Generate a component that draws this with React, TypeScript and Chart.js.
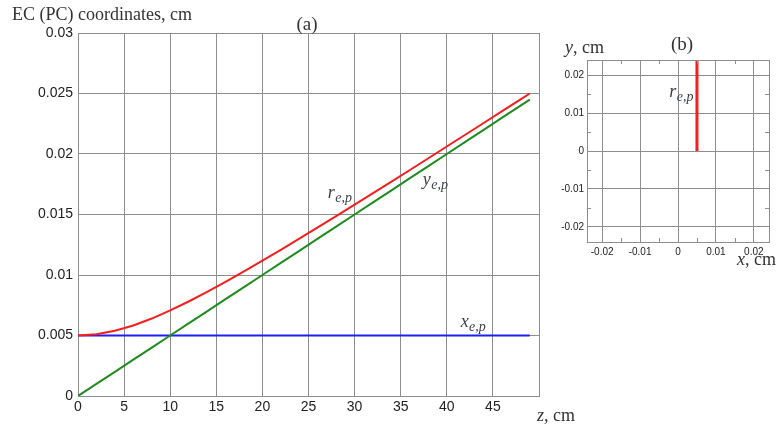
import React, { useEffect, useRef } from 'react';
import { Chart, registerables } from 'chart.js';

Chart.register(...registerables);

// ---- data ----
const zValues = [0, 2, 4, 6, 8, 10, 12, 14, 16, 18, 20, 22, 24, 26, 28, 30, 32, 34, 36, 38, 40, 42, 44, 46, 48, 49];
const xEp = [0.005, 0.005, 0.005, 0.005, 0.005, 0.005, 0.005, 0.005, 0.005, 0.005, 0.005, 0.005, 0.005, 0.005, 0.005, 0.005, 0.005, 0.005, 0.005, 0.005, 0.005, 0.005, 0.005, 0.005, 0.005, 0.005];
const yEp = [0, 0.001, 0.002, 0.003, 0.004, 0.005, 0.006, 0.007, 0.008, 0.009, 0.01, 0.011, 0.012, 0.013, 0.014, 0.015, 0.016, 0.017, 0.018, 0.019, 0.02, 0.021, 0.022, 0.023, 0.024, 0.0245];
const rEp = [0.005, 0.0051, 0.00539, 0.00583, 0.0064, 0.00707, 0.00781, 0.0086, 0.00943, 0.0103, 0.01118, 0.01208, 0.013, 0.01393, 0.01487, 0.01581, 0.01676, 0.01772, 0.01868, 0.01965, 0.02062, 0.02159, 0.02256, 0.02354, 0.02452, 0.025];

const panelBX = [0.005, 0.005];
const panelBY = [0, 0.025];

const mainXTicks = [0, 5, 10, 15, 20, 25, 30, 35, 40, 45, 50];
const mainYTicks = [0, 0.005, 0.01, 0.015, 0.02, 0.025, 0.03];
const bTicks = [-0.02, -0.01, 0, 0.01, 0.02];
const bMinor = [-0.015, -0.005, 0.005, 0.015];

const SERIF = '"Liberation Serif", "Times New Roman", serif';
const SANS = '"Liberation Sans", Arial, sans-serif';
const GRID = '#8e8e8e';
const TEXT = '#333';
const RED = 'rgb(245,30,30)';
const GREEN = 'rgb(30,140,30)';
const BLUE = 'rgb(30,30,245)';

const fmt = (v: number) => String(Number(v.toFixed(3)));

function subLabel(ctx: CanvasRenderingContext2D, x: number, y: number, main: string, sub: string, size: number) {
  ctx.font = `italic ${size}px ${SERIF}`;
  ctx.fillText(main, x, y);
  const w = ctx.measureText(main).width;
  ctx.font = `italic ${Math.round(size * 0.75)}px ${SERIF}`;
  ctx.fillText(sub, x + w + 0.5, y + 4);
}

function mixed(ctx: CanvasRenderingContext2D, x: number, y: number, ital: string, rest: string, size: number) {
  ctx.font = `italic ${size}px ${SERIF}`;
  ctx.fillText(ital, x, y);
  const w = ctx.measureText(ital).width;
  ctx.font = `${size}px ${SERIF}`;
  ctx.fillText(rest, x + w, y);
}

const textsA = {
  id: 'textsA',
  afterDraw(chart: any) {
    const ctx = chart.ctx as CanvasRenderingContext2D;
    const xs = chart.scales.x;
    const ys = chart.scales.y;
    ctx.save();
    ctx.fillStyle = TEXT;
    ctx.textBaseline = 'alphabetic';
    ctx.textAlign = 'left';
    ctx.font = `18px ${SERIF}`;
    ctx.fillText('EC (PC) coordinates, cm', 12, 20);
    ctx.textAlign = 'center';
    ctx.font = `19px ${SERIF}`;
    ctx.fillText('(a)', 307, 30);
    ctx.textAlign = 'left';
    mixed(ctx, 537, 421, 'z', ', cm', 18);
    ctx.fillStyle = '#3a3f4a';
    subLabel(ctx, xs.getPixelForValue(27.1), ys.getPixelForValue(0.01636), 'r', 'e,p', 18);
    subLabel(ctx, xs.getPixelForValue(37.4), ys.getPixelForValue(0.01746), 'y', 'e,p', 18);
    subLabel(ctx, xs.getPixelForValue(41.5), ys.getPixelForValue(0.00570), 'x', 'e,p', 18);
    ctx.restore();
  },
};

const frameB = {
  id: 'frameB',
  afterDatasetsDraw(chart: any) {
    const ctx = chart.ctx as CanvasRenderingContext2D;
    const a = chart.chartArea;
    const xs = chart.scales.x;
    const ys = chart.scales.y;
    ctx.save();
    ctx.strokeStyle = GRID;
    ctx.lineWidth = 1;
    ctx.beginPath();
    for (const v of bMinor) {
      const px = Math.round(xs.getPixelForValue(v)) + 0.5;
      ctx.moveTo(px, a.top); ctx.lineTo(px, a.top + 4);
      ctx.moveTo(px, a.bottom); ctx.lineTo(px, a.bottom - 4);
      const py = Math.round(ys.getPixelForValue(v)) + 0.5;
      ctx.moveTo(a.left, py); ctx.lineTo(a.left + 4, py);
      ctx.moveTo(a.right, py); ctx.lineTo(a.right - 4, py);
    }
    ctx.stroke();
    ctx.strokeRect(Math.round(a.left) + 0.5, Math.round(a.top) + 0.5, Math.round(a.right - a.left), Math.round(a.bottom - a.top));
    ctx.restore();
  },
  afterDraw(chart: any) {
    const ctx = chart.ctx as CanvasRenderingContext2D;
    const xs = chart.scales.x;
    const ys = chart.scales.y;
    ctx.save();
    ctx.fillStyle = TEXT;
    ctx.textBaseline = 'alphabetic';
    ctx.textAlign = 'center';
    ctx.font = `19px ${SERIF}`;
    ctx.fillText('(b)', 122, 50);
    ctx.textAlign = 'left';
    mixed(ctx, 5, 53, 'y', ', cm', 18);
    mixed(ctx, 177, 265, 'x', ', cm', 18);
    ctx.fillStyle = '#3a3f4a';
    subLabel(ctx, xs.getPixelForValue(-0.0023), ys.getPixelForValue(0.0143), 'r', 'e,p', 18);
    ctx.restore();
  },
};

export default function App() {
  const refA = useRef<HTMLCanvasElement | null>(null);
  const refB = useRef<HTMLCanvasElement | null>(null);

  useEffect(() => {
    const tickFont = { family: SANS, size: 14 };
    const chartA = new Chart(refA.current as HTMLCanvasElement, {
      type: 'scatter',
      data: {
        datasets: [
          { data: zValues.map((z, i) => ({ x: z, y: rEp[i] })), borderColor: RED, borderWidth: 2, showLine: true, pointRadius: 0, tension: 0 },
          { data: zValues.map((z, i) => ({ x: z, y: yEp[i] })), borderColor: GREEN, borderWidth: 2, showLine: true, pointRadius: 0, tension: 0 },
          { data: zValues.map((z, i) => ({ x: z, y: xEp[i] })), borderColor: BLUE, borderWidth: 2, showLine: true, pointRadius: 0, tension: 0 },
        ],
      },
      options: {
        responsive: false,
        animation: false,
        devicePixelRatio: 1,
        layout: { padding: { left: 0, right: 51, top: 33, bottom: 0 } },
        plugins: { legend: { display: false }, tooltip: { enabled: false } },
        scales: {
          x: {
            type: 'linear', min: 0, max: 50,
            afterBuildTicks: (s: any) => { s.ticks = mainXTicks.map((value) => ({ value })); },
            afterFit: (s: any) => { s.height = 31; },
            ticks: { callback: (v: any) => (v === 50 ? '' : String(v)), font: tickFont, color: '#222', padding: 3, maxRotation: 0, autoSkip: false },
            grid: { color: GRID, drawTicks: false },
            border: { display: true, color: GRID },
          },
          y: {
            type: 'linear', min: 0, max: 0.03,
            afterBuildTicks: (s: any) => { s.ticks = mainYTicks.map((value) => ({ value })); },
            afterFit: (s: any) => { s.width = 78; },
            ticks: { callback: (v: any) => fmt(v), font: tickFont, color: '#222', padding: 5, autoSkip: false },
            grid: { color: GRID, drawTicks: false },
            border: { display: true, color: GRID },
          },
        },
      },
      plugins: [textsA],
    } as any);

    const smallFont = { family: SANS, size: 10 };
    const chartB = new Chart(refB.current as HTMLCanvasElement, {
      type: 'scatter',
      data: {
        datasets: [
          { data: panelBX.map((x, i) => ({ x, y: panelBY[i] })), borderColor: RED, borderWidth: 3, showLine: true, pointRadius: 0 },
        ],
      },
      options: {
        responsive: false,
        animation: false,
        devicePixelRatio: 1,
        layout: { padding: { left: 0, right: 10, top: 60, bottom: 0 } },
        plugins: { legend: { display: false }, tooltip: { enabled: false } },
        scales: {
          x: {
            type: 'linear', min: -0.024, max: 0.024,
            afterBuildTicks: (s: any) => { s.ticks = bTicks.map((value) => ({ value })); },
            afterFit: (s: any) => { s.height = 38; },
            ticks: { callback: (v: any) => fmt(v), font: smallFont, color: '#222', padding: 4, maxRotation: 0, autoSkip: false },
            grid: { color: GRID, drawTicks: false },
            border: { display: true, color: GRID },
          },
          y: {
            type: 'linear', min: -0.024, max: 0.024,
            afterBuildTicks: (s: any) => { s.ticks = bTicks.map((value) => ({ value })); },
            afterFit: (s: any) => { s.width = 27; },
            ticks: { callback: (v: any) => fmt(v), font: smallFont, color: '#222', padding: 3, autoSkip: false },
            grid: { color: GRID, drawTicks: false },
            border: { display: true, color: GRID },
          },
        },
      },
      plugins: [frameB],
    } as any);

    return () => {
      chartA.destroy();
      chartB.destroy();
    };
  }, []);

  return (
    <div style={{ position: 'absolute', left: 0, top: 0, width: 779, height: 427, background: '#fff', overflow: 'hidden' }}>
      <canvas ref={refA} width={590} height={427} style={{ position: 'absolute', left: 0, top: 0, display: 'block' }} />
      <canvas ref={refB} width={219} height={280} style={{ position: 'absolute', left: 560, top: 0, display: 'block' }} />
    </div>
  );
}
